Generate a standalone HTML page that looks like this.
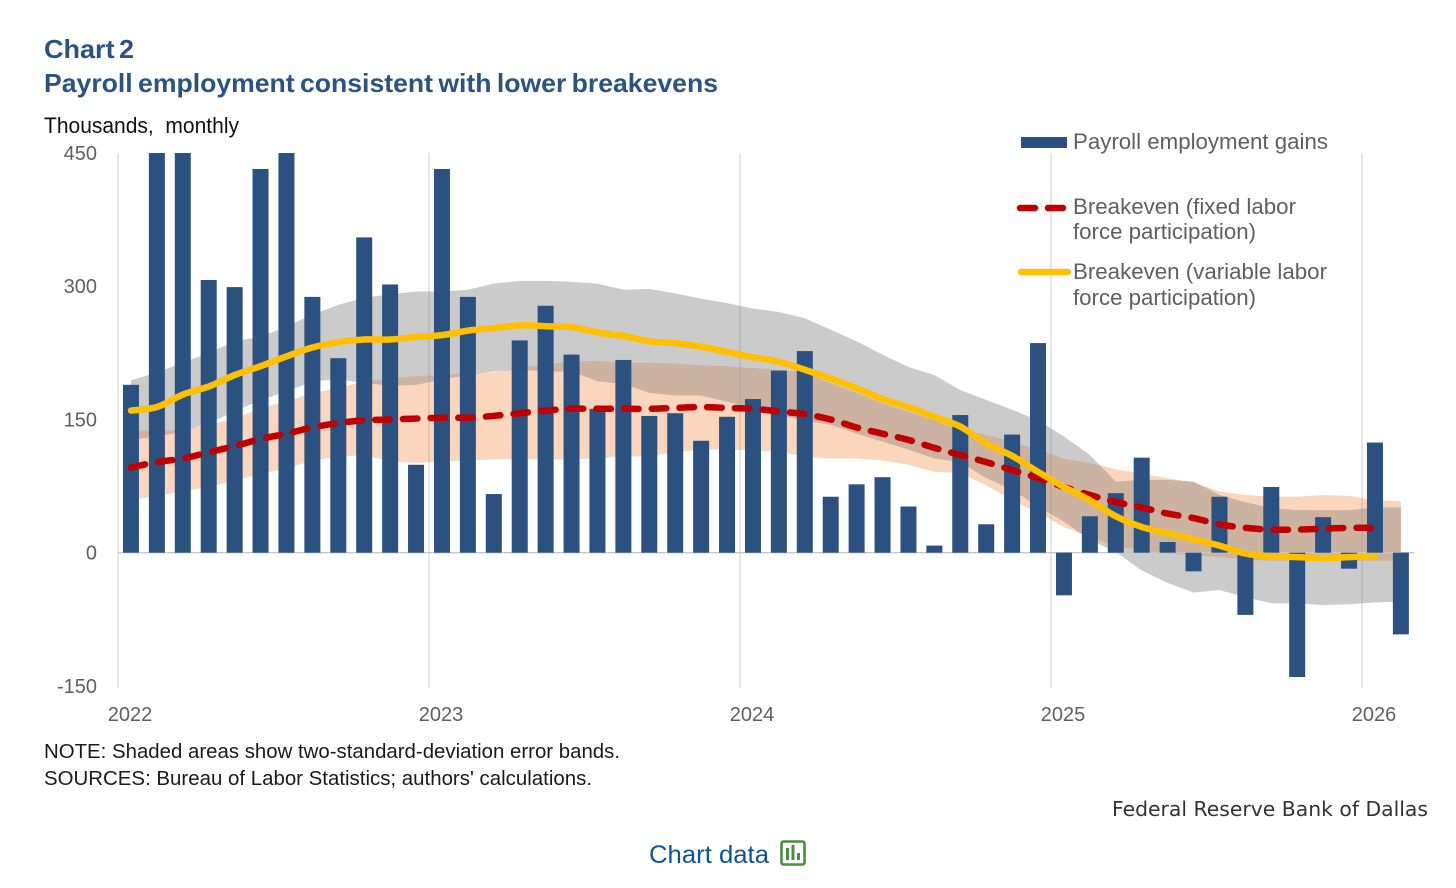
<!DOCTYPE html>
<html lang="en">
<head>
<meta charset="utf-8">
<title>Chart 2: Payroll employment consistent with lower breakevens</title>
<style>
html,body{margin:0;padding:0;background:#fff;}
svg{display:block;}
text{font-family:"Liberation Sans",sans-serif;white-space:pre;}
</style>
</head>
<body>
<svg id="chart" width="1456" height="888" viewBox="0 0 1456 888" xmlns="http://www.w3.org/2000/svg">
  <rect x="0" y="0" width="1456" height="888" fill="#ffffff"/>
  <text x="44" y="58" font-size="26" font-weight="700" fill="#2c5282" word-spacing="-3" textLength="90" lengthAdjust="spacingAndGlyphs">Chart 2</text>
  <text x="44" y="92" font-size="26" font-weight="700" fill="#2c5282" word-spacing="-2" textLength="674" lengthAdjust="spacingAndGlyphs">Payroll employment consistent with lower breakevens</text>
  <text x="44" y="133" font-size="22" fill="#111111" textLength="195" lengthAdjust="spacingAndGlyphs">Thousands,  monthly</text>

  <defs>
    <clipPath id="plot-clip"><rect x="100" y="153" width="1330" height="540"/></clipPath>
    <clipPath id="gray-band-clip"><path id="gray-band-clip-shape" d=""/></clipPath>
  </defs>
  <g id="bands"></g>
  <g id="grid"></g>
  <g id="bars" clip-path="url(#plot-clip)"></g>
  <g id="lines"></g>
  <g id="y-ticks"></g>
  <g id="x-ticks"></g>

  <g>
    <rect x="1021" y="137" width="46" height="11" fill="#2a5180"/>
    <text x="1073" y="149" font-size="22" fill="#5f5f5f" textLength="255" lengthAdjust="spacingAndGlyphs">Payroll employment gains</text>
    <line x1="1020" y1="208" x2="1063" y2="208" stroke="#c00000" stroke-width="6.5" stroke-linecap="round" stroke-dasharray="15 13"/>
    <text x="1073" y="214" font-size="22" fill="#5f5f5f" textLength="223" lengthAdjust="spacingAndGlyphs">Breakeven (fixed labor</text>
    <text x="1073" y="239" font-size="22" fill="#5f5f5f" textLength="183" lengthAdjust="spacingAndGlyphs">force participation)</text>
    <line x1="1021" y1="272" x2="1068" y2="272" stroke="#ffc000" stroke-width="6.5" stroke-linecap="round"/>
    <text x="1073" y="279" font-size="22" fill="#5f5f5f" textLength="254" lengthAdjust="spacingAndGlyphs">Breakeven (variable labor</text>
    <text x="1073" y="305" font-size="22" fill="#5f5f5f" textLength="183" lengthAdjust="spacingAndGlyphs">force participation)</text>
  </g>

  <text x="44" y="758" font-size="20.5" fill="#1a1a1a" textLength="576" lengthAdjust="spacingAndGlyphs">NOTE: Shaded areas show two-standard-deviation error bands.</text>
  <text x="44" y="785" font-size="20.5" fill="#1a1a1a" textLength="548" lengthAdjust="spacingAndGlyphs">SOURCES: Bureau of Labor Statistics; authors' calculations.</text>
  <text x="1112" y="816" font-size="20" fill="#333333" textLength="316" lengthAdjust="spacingAndGlyphs" style="font-family:'DejaVu Sans',sans-serif">Federal Reserve Bank of Dallas</text>

  <g style="cursor:pointer">
    <text x="649" y="863" font-size="25" fill="#0b5394" textLength="120" lengthAdjust="spacingAndGlyphs">Chart data</text>
    <g>
      <rect x="781.5" y="841.5" width="23" height="23" rx="2" fill="none" stroke="#4c8c3c" stroke-width="2.6"/>
      <rect x="786" y="848" width="3" height="12" fill="#4c8c3c"/>
      <rect x="791.5" y="845" width="3" height="15" fill="#4c8c3c"/>
      <rect x="797" y="853" width="3" height="7" fill="#4c8c3c"/>
    </g>
  </g>
</svg>
<script>
// Monthly payroll gains, thousands, Jan 2022 to Feb 2026 (first three tall bars run off the axis)
const payrollGains = [189,500,500,307,299,432,480,288,219,355,302,99,
  432,288,66,239,278,223,162,217,154,157,126,153,
  173,205,227,63,77,85,52,8,155,32,133,236,
  -48,41,67,107,12,-21,63,-70,74,-140,40,-18,
  124,-92];
const breakevenFixed = [96,102,106,113,120,128,134,141,146,149,150,151,
  152,152,154,157,160,162,162,162,162,163,164,163,
  162,159,156,150,141,134,127,118,110,102,93,84,
  74,65,57,51,44,39,32,28,26,26,27,28,28];
const breakevenVariable = [160,164,178,187,200,210,221,231,237,240,240,243,
  245,250,253,256,255,254,248,244,238,236,232,226,
  220,215,206,196,185,173,164,153,142,123,109,91,
  74,59,41,29,22,15,8,-1,-4,-5,-6,-5,-4];
const grayUpper = [194,203,214,225,238,243,255,268,279,287,291,294,
  294,296,303,306,306,305,303,296,297,292,286,281,
  275,271,264,251,238,223,209,200,183,172,161,149,
  131,110,80,82,82,80,65,57,50,48,48,48,51,51];
const grayLower = [127,131,136,146,159,172,181,193,195,191,188,189,
  195,200,204,206,204,204,193,190,180,177,177,170,
  163,155,149,144,134,125,116,106,102,84,71,52,
  35,14,1,-20,-34,-45,-42,-50,-57,-57,-59,-58,-56,-55];
const orangeUpper = [138,137,138,144,151,163,170,180,185,193,196,199,
  200,202,203,208,212,215,216,214,214,213,211,210,
  208,206,203,191,180,168,159,149,138,133,125,116,
  106,101,94,89,84,79,69,65,63,63,65,64,59,58];
const orangeLower = [59,64,69,74,81,89,95,104,108,110,103,101,
  103,104,105,106,105,105,106,108,109,113,116,116,
  115,114,108,106,106,104,99,91,90,76,59,45,
  29,18,7,3,-1,-3,-5,-8,-9,-9,-9,-9,-9,-9];
const yTickValues = [450,300,150,0,-150];
const yearLabels = ['2022','2023','2024','2025','2026'];
const yearStartIndex = [0,12,24,36,48];

const NS = 'http://www.w3.org/2000/svg';
function xBand(i){ return 118 + i * 311 / 12; }        // left edge of month i
function xScale(i){ return xBand(i + 0.5); }           // centre of month i
function yScale(v){ return 552.7 - v * 399.7 / 450; }
function make(tag, parent, attrs){
  const el = document.createElementNS(NS, tag);
  for (const k in attrs) el.setAttribute(k, attrs[k]);
  parent.appendChild(el);
  return el;
}
function pathFrom(values){
  return values.map(function(v, i){ return (i ? 'L' : 'M') + xScale(i).toFixed(2) + ' ' + yScale(v).toFixed(2); }).join(' ');
}
function smoothPathFrom(values){
  const pts = values.map(function(v, i){ return [xScale(i), yScale(v)]; });
  let d = 'M' + pts[0][0].toFixed(2) + ' ' + pts[0][1].toFixed(2);
  for (let i = 0; i < pts.length - 1; i++) {
    const p0 = pts[Math.max(i - 1, 0)], p1 = pts[i], p2 = pts[i + 1], p3 = pts[Math.min(i + 2, pts.length - 1)];
    const c1x = p1[0] + (p2[0] - p0[0]) / 6, c1y = p1[1] + (p2[1] - p0[1]) / 6;
    const c2x = p2[0] - (p3[0] - p1[0]) / 6, c2y = p2[1] - (p3[1] - p1[1]) / 6;
    d += ' C' + c1x.toFixed(2) + ' ' + c1y.toFixed(2) + ' ' + c2x.toFixed(2) + ' ' + c2y.toFixed(2) + ' ' + p2[0].toFixed(2) + ' ' + p2[1].toFixed(2);
  }
  return d;
}
function areaFrom(upper, lower){
  let d = pathFrom(upper);
  for (let i = lower.length - 1; i >= 0; i--) d += ' L' + xScale(i).toFixed(2) + ' ' + yScale(lower[i]).toFixed(2);
  return d + ' Z';
}

const bandGroup = document.getElementById('bands');
const grayArea = areaFrom(grayUpper, grayLower);
const orangeArea = areaFrom(orangeUpper, orangeLower);
document.getElementById('gray-band-clip-shape').setAttribute('d', grayArea);
const grayBand = make('path', bandGroup, {d:grayArea, fill:'#cbcbcb'});


const orangeBand = make('path', bandGroup, {d:orangeArea, fill:'#fbd5bc'});


const overlapBand = make('path', bandGroup, {d:orangeArea, fill:'#ccb2a1', 'clip-path':'url(#gray-band-clip)'});



const gridGroup = document.getElementById('grid');
yearStartIndex.forEach(function(idx){
  const gl = make('line', gridGroup, {x1:xBand(idx), x2:xBand(idx), y1:153, y2:688, stroke:'#8c8c8c', 'stroke-opacity':0.33, 'stroke-width':1.3});
  
  
});
const baseline = make('line', gridGroup, {x1:118, x2:1414, y1:yScale(0), y2:yScale(0), stroke:'#c6c6c6', 'stroke-width':1.3});



const barGroup = document.getElementById('bars');
payrollGains.forEach(function(v, i){
  const y0 = yScale(0), yv = yScale(v);
  const bar = make('rect', barGroup, {x:xScale(i) - 8, y:Math.min(y0, yv), width:16, height:Math.abs(yv - y0), fill:'#2a5180'});
  
  
});

const lineGroup = document.getElementById('lines');
const fixedLine = make('path', lineGroup, {d:smoothPathFrom(breakevenFixed), fill:'none', stroke:'#c00000', 'stroke-width':6.5, 'stroke-linecap':'round', 'stroke-linejoin':'round', 'stroke-dasharray':'14.5 13.2'});


const variableLine = make('path', lineGroup, {d:smoothPathFrom(breakevenVariable), fill:'none', stroke:'#ffc000', 'stroke-width':6.5, 'stroke-linecap':'round', 'stroke-linejoin':'round'});



const yTickGroup = document.getElementById('y-ticks');
yTickValues.forEach(function(v){
  const t = make('text', yTickGroup, {x:97, y:yScale(v) + 7, 'text-anchor':'end', 'font-size':20, fill:'#5f5f5f'});
  t.textContent = String(v);
  
  
});

const xTickGroup = document.getElementById('x-ticks');
yearLabels.forEach(function(label, k){
  const t = make('text', xTickGroup, {x:xScale(yearStartIndex[k]) - 1, y:721, 'text-anchor':'middle', 'font-size':20, fill:'#5f5f5f'});
  t.textContent = label;
  
  
});
</script>
</body>
</html>
